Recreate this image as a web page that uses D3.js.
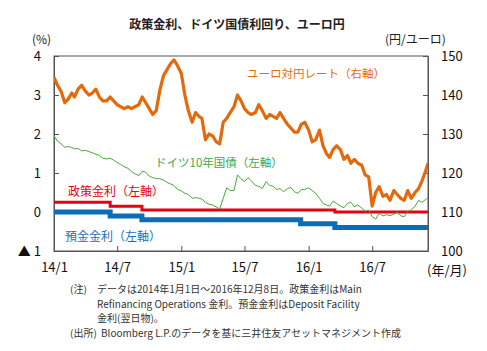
<!DOCTYPE html>
<html>
<head>
<meta charset="utf-8">
<script src="https://cdn.jsdelivr.net/npm/d3@7"></script>
<style>
  body { margin: 0; background: #fff; }
  svg text { font-family: "Noto Sans CJK JP", "Noto Sans", sans-serif; }
</style>
</head>
<body>
<svg id="chart" width="487" height="351"></svg>
<script>
// sample dates (about every 10 days)
const dates = [
 "2014-01-01","2014-01-11","2014-01-21","2014-02-01","2014-02-11","2014-02-21","2014-03-01","2014-03-11","2014-03-21",
 "2014-04-01","2014-04-11","2014-04-21","2014-05-01","2014-05-11","2014-05-21","2014-06-01","2014-06-11","2014-06-21",
 "2014-07-01","2014-07-11","2014-07-21","2014-08-01","2014-08-11","2014-08-21","2014-09-01","2014-09-11","2014-09-21",
 "2014-10-01","2014-10-11","2014-10-21","2014-11-01","2014-11-11","2014-11-21","2014-12-01","2014-12-11","2014-12-21",
 "2015-01-01","2015-01-11","2015-01-21","2015-02-01","2015-02-11","2015-02-21","2015-03-01","2015-03-11","2015-03-21",
 "2015-04-01","2015-04-11","2015-04-21","2015-05-01","2015-05-11","2015-05-21","2015-06-01","2015-06-11","2015-06-21",
 "2015-07-01","2015-07-11","2015-07-21","2015-08-01","2015-08-11","2015-08-21","2015-09-01","2015-09-11","2015-09-21",
 "2015-10-01","2015-10-11","2015-10-21","2015-11-01","2015-11-11","2015-11-21","2015-12-01","2015-12-11","2015-12-21",
 "2016-01-01","2016-01-11","2016-01-21","2016-02-01","2016-02-11","2016-02-21","2016-03-01","2016-03-11","2016-03-21",
 "2016-04-01","2016-04-11","2016-04-21","2016-05-01","2016-05-11","2016-05-21","2016-06-01","2016-06-11","2016-06-21",
 "2016-07-01","2016-07-11","2016-07-21","2016-08-01","2016-08-11","2016-08-21","2016-09-01","2016-09-11","2016-09-21",
 "2016-10-01","2016-10-11","2016-10-21","2016-11-01","2016-11-11","2016-11-21","2016-12-01","2016-12-08"
];

// EUR/JPY (right axis)
const eurJpy = [
 144.5,142.5,141, 138,139,140.5, 139.5,141.5,142.5,
 141,140,140.5, 141.5,139.5,138.5, 138.5,139.5,138.5,
 137.5,137,136.5, 137,136.5,137, 137.5,139.5,138,
 136.5,135,136, 141.5,145,146.5, 148,149,147.5,
 145.5,140,136, 133,135.5,134.5, 134,128.5,130,
 129.5,128,127.5, 133,134,135.5, 137,140,138.5,
 136.5,135.5,135, 135.5,137.5,136, 134,135,134.5,
 134,135.5,134, 132.5,131.5,130.5, 130.5,132.5,133,
 131,128,128.5, 131,127,125, 124,126,127,
 126,123.5,124.5, 122.5,123.5,122.5, 122,119.5,119,
 111.5,115,116.5, 114,114.5,113, 115.5,114.5,113.5,
 113,115.5,113.5, 115,116,118, 120.5,122.5
];

// German 10y yield (left axis, %)
const bund10y = [
 1.95,1.82,1.75, 1.66,1.68,1.65, 1.62,1.63,1.57,
 1.58,1.55,1.52, 1.48,1.45,1.38, 1.36,1.38,1.33,
 1.27,1.22,1.16, 1.12,1.04,0.98, 0.93,1.05,1.02,
 0.92,0.88,0.86, 0.85,0.82,0.76, 0.72,0.68,0.58,
 0.54,0.48,0.45, 0.35,0.37,0.35, 0.33,0.25,0.2,
 0.18,0.13,0.08, 0.35,0.62,0.55, 0.55,0.95,0.85,
 0.78,0.88,0.8, 0.68,0.66,0.6, 0.78,0.68,0.66,
 0.58,0.6,0.52, 0.6,0.63,0.52, 0.48,0.58,0.58,
 0.62,0.55,0.48, 0.35,0.22,0.18, 0.15,0.28,0.22,
 0.15,0.11,0.22, 0.25,0.13,0.18, 0.1,0.02,0.05,
 -0.12,-0.18,-0.04, -0.1,-0.07,-0.09, -0.06,0.0,-0.1,
 -0.12,0.02,0.05, 0.15,0.3,0.25, 0.32,0.36
];

// ECB rates (step changes)
const policyDates = ["2014-01-01","2014-06-11","2014-09-10","2016-03-16","2016-12-08"];
const policyValues = [0.25, 0.15, 0.05, 0.00, 0.00];
const depositDates = ["2014-01-01","2014-06-11","2014-09-10","2015-12-09","2016-03-16","2016-12-08"];
const depositValues = [0, -0.10, -0.20, -0.30, -0.40, -0.40];

// axis ticks
const xTickDates = ["2014-01-01","2014-07-01","2015-01-01","2015-07-01","2016-01-01","2016-07-01"];
const xTickLabels = ["14/1","14/7","15/1","15/7","16/1","16/7"];
const leftTicks = [-1, 0, 1, 2, 3, 4];
const leftTickLabels = ["▲ 1","0","1","2","3","4"];
const rightTicks = [100, 110, 120, 130, 140, 150];

const parse = d3.timeParse("%Y-%m-%d");

const plot = {left: 54, right: 428, top: 56, bottom: 251};
const svg = d3.select("#chart");

const x = d3.scaleTime()
  .domain([parse("2014-01-01"), parse("2016-12-08")])
  .range([plot.left, plot.right]);
const yL = d3.scaleLinear().domain([-1, 4]).range([plot.bottom, plot.top]);
const yR = d3.scaleLinear().domain([100, 150]).range([plot.bottom, plot.top]);

// title
svg.append("text")
  .attr("x", 237).attr("y", 29)
  .attr("text-anchor", "middle")
  .style("font-size", "12px").style("font-weight", "bold").style("fill", "#222")
  .text("政策金利、ドイツ国債利回り、ユーロ円");

svg.append("text").attr("x", 32).attr("y", 44)
  .style("font-size", "12px").style("fill", "#222").text("(%)");
svg.append("text").attr("x", 385).attr("y", 44)
  .style("font-size", "12px").style("fill", "#222").text("(円/ユーロ)");

// frame
svg.append("rect")
  .attr("x", plot.left).attr("y", plot.top)
  .attr("width", plot.right - plot.left).attr("height", plot.bottom - plot.top)
  .style("fill", "none").style("stroke", "#555").style("stroke-width", 1);

// axes
svg.append("g")
  .attr("transform", `translate(${plot.left},0)`)
  .call(d3.axisLeft(yL).tickValues(leftTicks)
    .tickFormat((d, i) => leftTickLabels[i])
    .tickSizeInner(-5).tickSizeOuter(0).tickPadding(13));

svg.append("g")
  .attr("transform", `translate(${plot.right},0)`)
  .call(d3.axisRight(yR).tickValues(rightTicks)
    .tickSizeInner(-5).tickSizeOuter(0).tickPadding(13));

svg.append("g")
  .attr("transform", `translate(0,${plot.bottom})`)
  .call(d3.axisBottom(x).tickValues(xTickDates.map(parse))
    .tickFormat((d, i) => xTickLabels[i])
    .tickSizeInner(-5).tickSizeOuter(0).tickPadding(12));

svg.selectAll(".domain").style("stroke", "#555");
svg.selectAll(".tick line").style("stroke", "#555");
svg.selectAll(".tick text")
  .style("font-size", "13px").style("fill", "#111")
  .style("font-family", "\"Noto Sans CJK JP\", sans-serif");

svg.append("text").attr("x", 427).attr("y", 275)
  .style("font-size", "13px").style("fill", "#111").text("(年/月)");

// series
svg.append("defs").append("clipPath").attr("id", "clip")
  .append("rect")
  .attr("x", plot.left).attr("y", plot.top)
  .attr("width", plot.right - plot.left).attr("height", plot.bottom - plot.top);

const g = svg.append("g").attr("clip-path", "url(#clip)");

const stepLine = d3.line()
  .x(d => x(d[0])).y(d => yL(d[1]))
  .curve(d3.curveStepAfter);

g.append("path")
  .datum(depositDates.map((d, i) => [parse(d), depositValues[i]]))
  .attr("d", stepLine)
  .style("fill", "none").style("stroke", "#0b6cb8").style("stroke-width", 5);

g.append("path")
  .datum(policyDates.map((d, i) => [parse(d), policyValues[i]]))
  .attr("d", stepLine)
  .style("fill", "none").style("stroke", "#e60012").style("stroke-width", 3);

const bundLine = d3.line().x(d => x(d[0])).y(d => yL(d[1]));
g.append("path")
  .datum(dates.map((d, i) => [parse(d), bund10y[i]]))
  .attr("d", bundLine)
  .style("fill", "none").style("stroke", "#4aa83a").style("stroke-width", 1);

const yenLine = d3.line().x(d => x(d[0])).y(d => yR(d[1]));
g.append("path")
  .datum(dates.map((d, i) => [parse(d), eurJpy[i]]))
  .attr("d", yenLine)
  .style("fill", "none").style("stroke", "#e36a0c").style("stroke-width", 3.2)
  .style("stroke-linejoin", "round");

// series labels
svg.append("text").attr("x", 247).attr("y", 78)
  .style("font-size", "11.5px").style("fill", "#e46c0a").text("ユーロ対円レート（右軸）");
svg.append("text").attr("x", 155).attr("y", 167)
  .style("font-size", "11.5px").style("fill", "#3fa84a").text("ドイツ10年国債（左軸）");
svg.append("text").attr("x", 68).attr("y", 196)
  .style("font-size", "12px").style("fill", "#e60012").text("政策金利（左軸）");
svg.append("text").attr("x", 65).attr("y", 241)
  .style("font-size", "12px").style("fill", "#1f6fb8").text("預金金利（左軸）");

// notes
const notes = [
  [70, 293, "(注)"],
  [97, 293, "データは2014年1月1日～2016年12月8日。政策金利はMain"],
  [97, 307.5, "Refinancing Operations 金利。預金金利はDeposit Facility"],
  [97, 322, "金利(翌日物)。"],
  [70, 336.5, "(出所)"],
  [101, 336.5, "Bloomberg L.P.のデータを基に三井住友アセットマネジメント作成"]
];
svg.selectAll(".note").data(notes).enter().append("text")
  .attr("class", "note")
  .attr("x", d => d[0]).attr("y", d => d[1])
  .style("font-size", "10px").style("fill", "#333")
  .text(d => d[2]);
</script>
</body>
</html>
